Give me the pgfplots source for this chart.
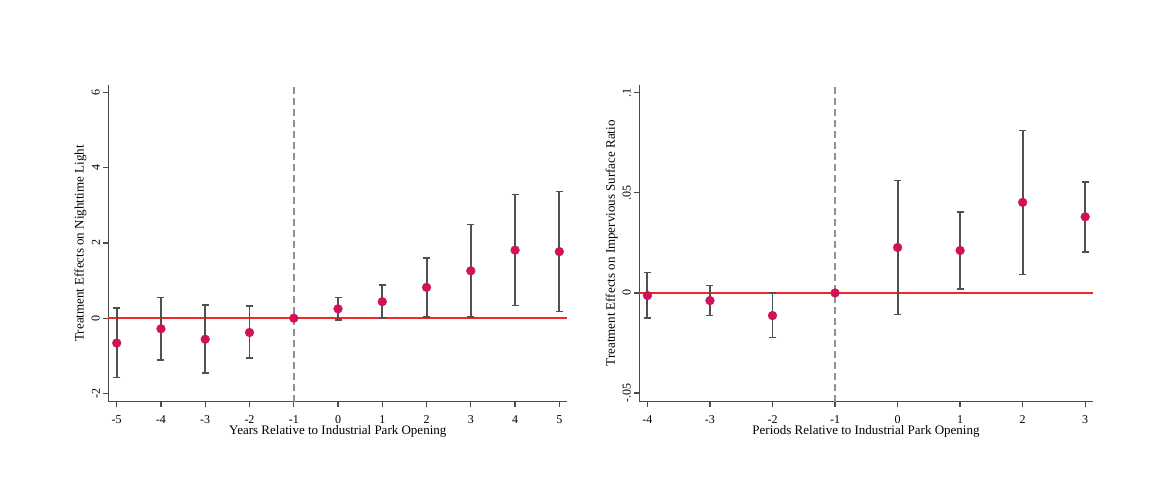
\documentclass[border=0pt]{standalone}
\usepackage{pgfplots}
\pgfplotsset{compat=1.18}
\usepackage{pgfplotstable}
\usepackage{fontspec}
\setmainfont{Liberation Serif}
\definecolor{markc}{RGB}{208,18,88}
\definecolor{zeroc}{RGB}{240,40,40}
\definecolor{axc}{RGB}{75,75,75}
\definecolor{barc}{RGB}{80,80,80}
\definecolor{dashc}{RGB}{145,145,145}

\pgfplotstableread{
x y lo hi
-5 -0.66 -1.58 0.27
-4 -0.28 -1.11 0.55
-3 -0.56 -1.46 0.35
-2 -0.38 -1.06 0.32
-1 0 0 0
0 0.25 -0.05 0.55
1 0.44 0.00 0.88
2 0.82 0.035 1.60
3 1.26 0.03 2.49
4 1.81 0.34 3.29
5 1.77 0.18 3.37
}\lighttab

\pgfplotstableread{
x y lo hi
-4 -0.0013 -0.0125 0.0102
-3 -0.0038 -0.0112 0.0038
-2 -0.0113 -0.0222 0.0000
-1 0 0 0
0 0.0227 -0.0108 0.0562
1 0.0212 0.0020 0.0405
2 0.0452 0.0092 0.0812
3 0.0380 0.0205 0.0555
}\surftab

\pgfplotsset{
  statastyle/.style={
    scale only axis,
    anchor=south west,
    height=316.7pt,
    axis x line*=bottom,
    axis y line*=left,
    axis line style={axc, line width=1.5pt, -},
    tick style={axc, line width=1.3pt},
    tick align=outside,
    major tick length=5pt,
    xtick pos=bottom, ytick pos=left,
    xticklabel style={font=\fontsize{12}{14}\selectfont, text=black, yshift=-5pt},
    yticklabel style={font=\fontsize{12}{14}\selectfont, text=black, rotate=90, anchor=south},
    label style={font=\fontsize{13}{15}\selectfont},
    xlabel style={at={(axis description cs:0.5,0)}, anchor=north, inner sep=0pt, yshift=-24pt},
    clip=false,
  },
  ebar/.style={
    only marks, mark=none,
    error bars/.cd,
      y dir=both, y explicit,
      error mark=-,
      error mark options={barc, line width=1.5pt, mark size=3.5pt, rotate=90},
      error bar style={barc, line width=1.9pt},
  },
  pts/.style={only marks, mark=*, mark size=4.4pt, mark options={fill=markc, draw=markc}},
}

\begin{document}
\begin{tikzpicture}
\useasboundingbox (0,0) rectangle (1167pt,480pt);

\begin{axis}[statastyle,
  at={(108.3pt,78.3pt)}, width=459pt,
  xmin=-5.19, xmax=5.18, ymin=-2.22, ymax=6.2,
  xtick={-5,-4,-3,-2,-1,0,1,2,3,4,5},
  xticklabels={-5,-4,-3,-2,-1,0,1,2,3,4,5},
  ytick={-2,0,2,4,6},
  yticklabels={-2,0,2,4,6},
  xlabel={Years Relative to Industrial Park Opening},
  ylabel={Treatment Effects on Nighttime Light},
  ylabel style={at={(axis description cs:-0.040,0.5)}, anchor=south, rotate=0},
]
\addplot[dashc, line width=1.5pt, dash pattern=on 7pt off 4pt] coordinates {(-1,-2.22) (-1,6.2)};
\addplot[zeroc, line width=1.6pt] coordinates {(-5.19,0) (5.18,0)};
\addplot[ebar] table[x=x, y=y, y error plus expr=\thisrow{hi}-\thisrow{y}, y error minus expr=\thisrow{y}-\thisrow{lo}] {\lighttab};
\addplot[pts] table[x=x, y=y] {\lighttab};
\end{axis}

\begin{axis}[statastyle,
  at={(639.3pt,78.3pt)}, width=453.4pt,
  xmin=-4.13, xmax=3.12, ymin=-0.0543, ymax=0.1038,
  xtick={-4,-3,-2,-1,0,1,2,3},
  xticklabels={-4,-3,-2,-1,0,1,2,3},
  ytick={-0.05,0,0.05,0.1},
  yticklabels={-.05,0,.05,.1},
  scaled y ticks=false,
  xlabel={Periods Relative to Industrial Park Opening},
  ylabel={Treatment Effects on Impervious Surface Ratio},
  ylabel style={at={(axis description cs:-0.040,0.5)}, anchor=south, rotate=0},
]
\addplot[dashc, line width=1.5pt, dash pattern=on 7pt off 4pt] coordinates {(-1,-0.0543) (-1,0.1038)};
\addplot[zeroc, line width=1.6pt] coordinates {(-4.13,0) (3.12,0)};
\addplot[ebar] table[x=x, y=y, y error plus expr=\thisrow{hi}-\thisrow{y}, y error minus expr=\thisrow{y}-\thisrow{lo}] {\surftab};
\addplot[pts] table[x=x, y=y] {\surftab};
\end{axis}
\end{tikzpicture}
\end{document}
